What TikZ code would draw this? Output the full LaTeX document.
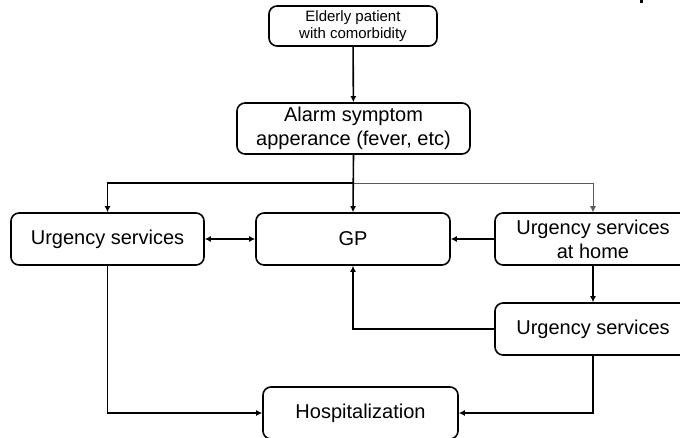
\documentclass[tikz,border=0pt]{standalone}
\usepackage{fontspec}
\setmainfont{Liberation Sans}
\usetikzlibrary{arrows.meta}
\begin{document}
\begin{tikzpicture}[x=1pt,y=-1pt,
  box/.style={draw, line width=1.6pt, rounded corners=8pt, align=center,
    inner sep=0pt, minimum height=52pt, font=\fontsize{20}{24}\selectfont},
  link/.style={line width=1.6pt, -{Latex[length=6pt,width=6pt]}},
  faintlink/.style={line width=0.7pt, draw=gray, -{Latex[length=6pt,width=6pt]}, color=gray!70!black}]
\useasboundingbox (0,0) rectangle (680,438);
\clip (0,0) rectangle (680,438);

% stray descender of a heading above the chart
\fill (640,0) rectangle (643,3);

% boxes
\node[box, minimum width=168pt, minimum height=40pt,
      font=\fontsize{15}{16.5}\selectfont] (patient) at (353,26) {Elderly patient\\with comorbidity};
\node[box, minimum width=233pt, minimum height=51pt] (alarm) at (353.5,128.5) {Alarm symptom\\apperance (fever, etc)};
\node[box, minimum width=193pt] (urgleft) at (107.5,239) {Urgency services};
\node[box, minimum width=194pt] (gp) at (353,239) {GP};
\node[box, minimum width=196pt] (home) at (593,239) {Urgency services\\at home};
\node[box, minimum width=196pt] (urgright) at (593,329) {Urgency services};
\node[box, minimum width=195pt] (hosp) at (360.5,413) {Hospitalization};

% branching point below the alarm box
\coordinate (split) at (353,183);

% connectors
\draw[faintlink] (split) -| (home.north);
\draw[link] (patient) -- (alarm);
\draw[link] (alarm.south) -- (gp.north);
\draw[link] (split) -| (urgleft.north);
\draw[link, {Latex[length=6pt,width=6pt]}-{Latex[length=6pt,width=6pt]}] (urgleft.east) -- (gp.west);
\draw[link] (home.west) -- (gp.east);
\draw[link] (home.south) -- (urgright.north);
\draw[link] (urgright.west) -| (gp.south);
\draw[link] (urgright.south) |- (hosp.east);
\draw[link] (urgleft.south) |- (hosp.west);
\end{tikzpicture}
\end{document}
